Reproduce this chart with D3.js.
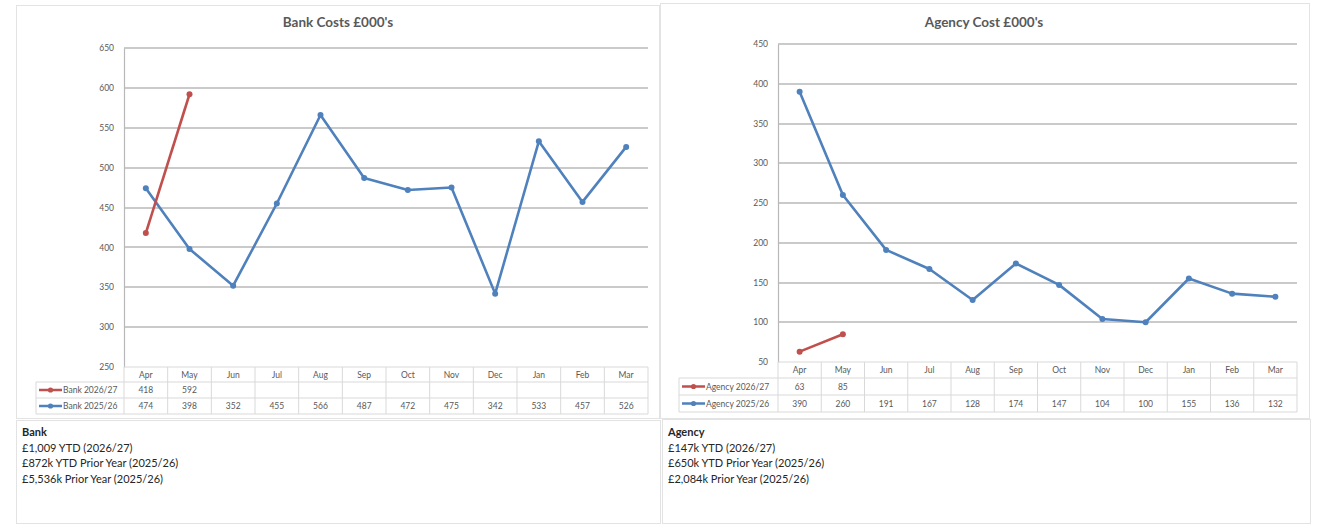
<!DOCTYPE html>
<html>
<head>
<meta charset="utf-8">
<script src="https://cdn.jsdelivr.net/npm/d3@7"></script>
<style>
  html, body { margin: 0; padding: 0; background: #fff; }
  svg { display: block; font-family: Lato, "Liberation Sans", sans-serif; }
</style>
</head>
<body>
<svg id="chart" width="1319" height="525"></svg>
<script>
// Financial-year months shown on both charts
const months = ["Apr", "May", "Jun", "Jul", "Aug", "Sep", "Oct", "Nov", "Dec", "Jan", "Feb", "Mar"];

// Bank costs (£000's)
const bankCurrent = [418, 592];
const bankPrior = [474, 398, 352, 455, 566, 487, 472, 475, 342, 533, 457, 526];
const bankTicks = [250, 300, 350, 400, 450, 500, 550, 600, 650];
const bankNotes = ["£1,009 YTD (2026/27)", "£872k YTD Prior Year (2025/26)", "£5,536k Prior Year (2025/26)"];

// Agency costs (£000's)
const agencyCurrent = [63, 85];
const agencyPrior = [390, 260, 191, 167, 128, 174, 147, 104, 100, 155, 136, 132];
const agencyTicks = [50, 100, 150, 200, 250, 300, 350, 400, 450];
const agencyNotes = ["£147k YTD (2026/27)", "£650k YTD Prior Year (2025/26)", "£2,084k Prior Year (2025/26)"];

const RED = "#c0504d";
const BLUE = "#4f81bd";
const GRID = "#b8b8b8";
const CELL = "#d9d9d9";
const TXT = "#595959";

const svg = d3.select("#chart");

function drawPanel(opt) {
  const g = svg.append("g");

  // outer chart frame
  g.append("rect")
    .attr("x", opt.box.x0 + 0.5).attr("y", opt.box.y0 + 0.5)
    .attr("width", opt.box.x1 - opt.box.x0).attr("height", opt.box.y1 - opt.box.y0)
    .attr("fill", "#fff").attr("stroke", "#e3e3e3");

  // notes frame below the chart
  g.append("rect")
    .attr("x", opt.note.x0 + 0.5).attr("y", opt.note.y0 + 0.5)
    .attr("width", opt.note.x1 - opt.note.x0).attr("height", opt.note.y1 - opt.note.y0)
    .attr("fill", "#fff").attr("stroke", "#e3e3e3");

  g.append("text")
    .attr("x", opt.titleX).attr("y", 27)
    .attr("text-anchor", "middle")
    .attr("font-size", 13.5).attr("font-weight", "bold").attr("fill", TXT)
    .text(opt.title);

  const x = d3.scaleBand().domain(months).range([opt.plot.x0, opt.plot.x1]);
  const y = d3.scaleLinear().domain(d3.extent(opt.ticks)).range([opt.plot.y1, opt.plot.y0]);

  // horizontal gridlines
  g.append("g").selectAll("line").data(opt.ticks.slice(1)).join("line")
    .attr("x1", opt.plot.x0).attr("x2", opt.plot.x1)
    .attr("y1", d => Math.round(y(d))).attr("y2", d => Math.round(y(d)))
    .attr("stroke", GRID).attr("stroke-width", 1.7);

  // value axis
  const yAxis = d3.axisLeft(y).tickValues(opt.ticks).tickSize(0).tickPadding(10);
  const ya = g.append("g").attr("transform", `translate(${opt.plot.x0},0)`).call(yAxis);
  ya.select(".domain").attr("stroke", GRID).attr("stroke-width", 1.2);
  ya.selectAll("text").attr("font-size", 8.5).attr("fill", TXT).attr("font-family", "Lato, 'Liberation Sans', sans-serif");

  // data table under the plot
  const rowY = opt.rows; // [top of header, header/row1, row1/row2, bottom]
  const tab = g.append("g");
  const edges = months.map(m => x(m)).concat([opt.plot.x1]);
  tab.selectAll("line.v").data(edges).join("line")
    .attr("class", "v")
    .attr("x1", d => d).attr("x2", d => d)
    .attr("y1", rowY[0]).attr("y2", rowY[3])
    .attr("stroke", CELL);
  tab.append("line").attr("x1", opt.tableX0).attr("x2", opt.tableX0)
    .attr("y1", rowY[1]).attr("y2", rowY[3]).attr("stroke", CELL);
  tab.append("line").attr("x1", opt.plot.x0).attr("x2", opt.plot.x1)
    .attr("y1", rowY[0]).attr("y2", rowY[0]).attr("stroke", CELL);
  [rowY[1], rowY[2], rowY[3]].forEach(yy => {
    tab.append("line").attr("x1", opt.tableX0).attr("x2", opt.plot.x1)
      .attr("y1", yy).attr("y2", yy).attr("stroke", CELL);
  });

  // month header
  tab.selectAll("text.m").data(months).join("text")
    .attr("class", "m")
    .attr("x", d => x(d) + x.bandwidth() / 2)
    .attr("y", (rowY[0] + rowY[1]) / 2 + 3)
    .attr("text-anchor", "middle").attr("font-size", 8.5).attr("fill", TXT)
    .text(d => d);

  const series = [
    { name: opt.label + " 2026/27", values: opt.current, color: RED, r0: rowY[1], r1: rowY[2] },
    { name: opt.label + " 2025/26", values: opt.prior, color: BLUE, r0: rowY[2], r1: rowY[3] }
  ];

  series.forEach(s => {
    const cy = (s.r0 + s.r1) / 2;
    // legend key inside the table
    tab.append("line")
      .attr("x1", opt.tableX0 + 3).attr("x2", opt.tableX0 + 26)
      .attr("y1", cy).attr("y2", cy)
      .attr("stroke", s.color).attr("stroke-width", 2.5);
    tab.append("circle")
      .attr("cx", opt.tableX0 + 14.5).attr("cy", cy).attr("r", 2.6).attr("fill", s.color);
    tab.append("text")
      .attr("x", opt.tableX0 + 27).attr("y", cy + 3)
      .attr("font-size", 8.5).attr("fill", TXT)
      .text(s.name);
    // values
    tab.selectAll(null).data(s.values).join("text")
      .attr("x", (d, i) => x(months[i]) + x.bandwidth() / 2)
      .attr("y", cy + 3)
      .attr("text-anchor", "middle").attr("font-size", 8.5).attr("fill", TXT)
      .text(d => d);
  });

  // lines and markers, prior year drawn first
  const line = d3.line()
    .x((d, i) => x(months[i]) + x.bandwidth() / 2)
    .y(d => y(d));
  [series[1], series[0]].forEach(s => {
    g.append("path").datum(s.values)
      .attr("d", line)
      .attr("fill", "none").attr("stroke", s.color)
      .attr("stroke-width", 2.6).attr("stroke-linejoin", "round");
    g.append("g").selectAll("circle").data(s.values).join("circle")
      .attr("cx", (d, i) => x(months[i]) + x.bandwidth() / 2)
      .attr("cy", d => y(d))
      .attr("r", 3).attr("fill", s.color);
  });

  // notes text
  const nt = g.append("text")
    .attr("x", opt.note.x0 + 6).attr("y", 436)
    .attr("font-size", 11).attr("fill", "#262626");
  nt.append("tspan").attr("font-weight", "bold").text(opt.label);
  opt.notes.forEach(n => {
    nt.append("tspan").attr("x", opt.note.x0 + 6).attr("dy", 15.7).text(n);
  });
}

drawPanel({
  title: "Bank Costs £000's", label: "Bank", titleX: 338,
  box: { x0: 16, y0: 5, x1: 659, y1: 418 },
  note: { x0: 16, y0: 420, x1: 660, y1: 523 },
  plot: { x0: 124, x1: 648, y0: 48, y1: 367 },
  tableX0: 36,
  rows: [367, 382, 398, 414],
  ticks: bankTicks, current: bankCurrent, prior: bankPrior, notes: bankNotes
});

drawPanel({
  title: "Agency Cost £000's", label: "Agency", titleX: 984,
  box: { x0: 660, y0: 3, x1: 1309, y1: 418 },
  note: { x0: 662, y0: 419, x1: 1310, y1: 523 },
  plot: { x0: 778, x1: 1297, y0: 44, y1: 362 },
  tableX0: 679,
  rows: [362, 378, 395, 412],
  ticks: agencyTicks, current: agencyCurrent, prior: agencyPrior, notes: agencyNotes
});
</script>
</body>
</html>
